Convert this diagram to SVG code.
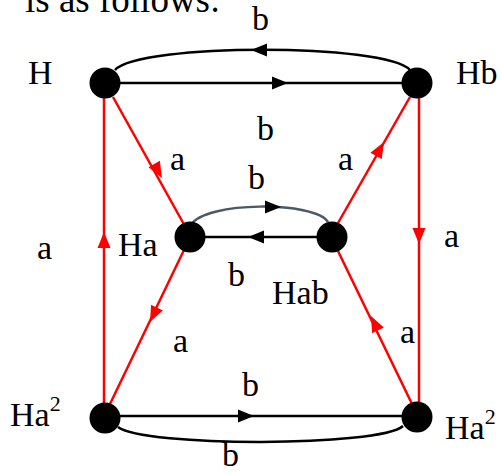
<svg xmlns="http://www.w3.org/2000/svg" xmlns:xlink="http://www.w3.org/1999/xlink" width="501" height="474" viewBox="0 0 501 474">
<style>
text{font-family:"Liberation Serif","Times New Roman",serif;font-size:34px;fill:#000}
.r{stroke:#ff0000;stroke-width:2.5;fill:none}
.k{stroke:#000;stroke-width:2.5;fill:none}
.g{stroke:#4a5868;stroke-width:2.5;fill:none}
.node{fill:#000}
.sup{font-size:22px}
</style>
<defs>
<path id="ah" d="M0,0 L-16,-6.5 L-16,6.5 Z"/>
</defs>
<rect width="501" height="474" fill="#fff"/>
<text x="25" y="12" style="font-size:37px">is as follows:</text>
<g id="connectors">
<line class="k" x1="105" y1="83" x2="417" y2="83"/>
<path class="k" d="M115,70 C140,43 385,43 410,70"/>
<path class="g" d="M191,225 C205,201 315,201 328,222"/>
<line class="k" x1="190" y1="237" x2="332" y2="237"/>
<line class="k" x1="105" y1="416" x2="417" y2="416"/>
<path class="k" d="M118,427 C143,447 380,447 403,426"/>
<line class="r" x1="104" y1="98" x2="104" y2="403"/>
<line class="r" x1="419" y1="98" x2="419" y2="403"/>
<line class="r" x1="113" y1="97" x2="186" y2="228"/>
<line class="r" x1="184" y1="250" x2="110" y2="404"/>
<line class="r" x1="338" y1="223" x2="410" y2="97"/>
<line class="r" x1="412" y1="404" x2="338" y2="251"/>
<use xlink:href="#ah" fill="#000" transform="translate(288,83)"/>
<use xlink:href="#ah" fill="#000" transform="translate(251,50) rotate(180)"/>
<use xlink:href="#ah" fill="#000" transform="translate(281,207)"/>
<use xlink:href="#ah" fill="#000" transform="translate(248,237) rotate(180)"/>
<use xlink:href="#ah" fill="#000" transform="translate(254,416)"/>
<use xlink:href="#ah" fill="#ff0000" transform="translate(162,178) rotate(60.9)"/>
<use xlink:href="#ah" fill="#ff0000" transform="translate(150,322) rotate(115.7)"/>
<use xlink:href="#ah" fill="#ff0000" transform="translate(104,232) rotate(-90)"/>
<use xlink:href="#ah" fill="#ff0000" transform="translate(384,142) rotate(-60.3)"/>
<use xlink:href="#ah" fill="#ff0000" transform="translate(419,244) rotate(90)"/>
<use xlink:href="#ah" fill="#ff0000" transform="translate(371,316) rotate(-115.8)"/>
</g>
<g id="labels">
<text x="252" y="30">b</text>
<text x="257" y="140">b</text>
<text x="170" y="170">a</text>
<text x="338" y="170">a</text>
<text x="248" y="189">b</text>
<text x="228" y="286">b</text>
<text x="37" y="259">a</text>
<text x="444" y="247">a</text>
<text x="173" y="352">a</text>
<text x="400" y="343">a</text>
<text x="242" y="396">b</text>
<text x="222" y="466">b</text>
</g>
<g id="H"><circle class="node" cx="105" cy="83" r="15.5"/><text x="28" y="84">H</text></g>
<g id="Hb"><circle class="node" cx="417" cy="83" r="15.5"/><text x="456" y="84">Hb</text></g>
<g id="Ha"><circle class="node" cx="190" cy="237" r="15.5"/><text x="118" y="256">Ha</text></g>
<g id="Hab"><circle class="node" cx="332" cy="237" r="15.5"/><text x="272" y="304">Hab</text></g>
<g id="Ha2L"><circle class="node" cx="105" cy="418" r="15.5"/><text x="10" y="426">Ha<tspan class="sup" dy="-15">2</tspan></text></g>
<g id="Ha2R"><circle class="node" cx="417" cy="417" r="15.5"/><text x="445" y="439">Ha<tspan class="sup" dy="-15">2</tspan></text></g>
</svg>
